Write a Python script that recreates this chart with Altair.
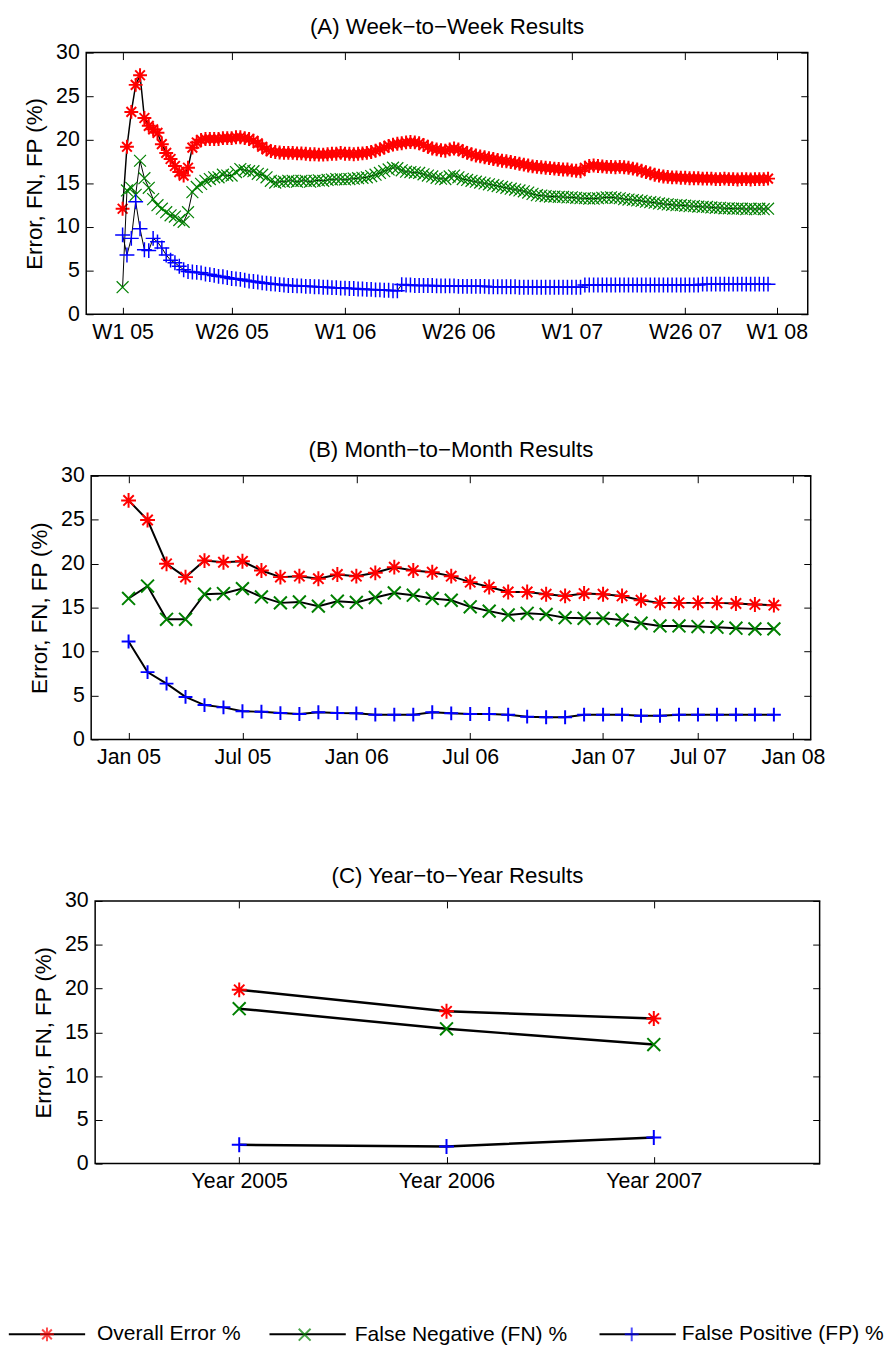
import altair as alt
import pandas as pd

FONT = "Liberation Sans"
SERIES = ["Overall Error %", "False Negative (FN) %", "False Positive (FP) %"]
COLORS = ["#ff0000", "#008000", "#0000ff"]
Y_TITLE = "Error, FN, FP (%)"
Y_TICKS = [0, 5, 10, 15, 20, 25, 30]

# ---------------- (A) week-to-week ----------------
week_overall = [
    12.1, 19.2, 23.2, 26.3, 27.4, 22.5, 21.6, 21.2, 20.8, 19.5, 18.5, 17.8, 17.0, 16.3, 15.9, 16.8,
    19.1, 19.7, 20.0, 20.1, 20.1, 20.1, 20.1, 20.2, 20.2, 20.2, 20.3, 20.3, 20.2, 20.1, 19.9, 19.6,
    19.2, 18.9, 18.7, 18.6,
    18.55, 18.5, 18.5, 18.5, 18.45, 18.45,
    18.4, 18.35, 18.35, 18.3, 18.3, 18.35, 18.4, 18.4, 18.5, 18.4, 18.4, 18.35, 18.4, 18.45, 18.5,
    18.6, 18.75, 18.9, 19.1, 19.3, 19.45, 19.55, 19.6, 19.7, 19.75,
    19.7, 19.6, 19.4, 19.2, 19.0, 18.9, 18.8, 18.75,
    18.9, 19.0, 18.9, 18.7, 18.5, 18.35,
    18.2, 18.1, 18.0, 17.9, 17.8, 17.7, 17.6, 17.55,
    17.45, 17.35, 17.25, 17.15, 17.05, 16.95, 16.9, 16.85,
    16.8, 16.75, 16.7, 16.65, 16.6, 16.6, 16.5, 16.45, 16.4,
    16.8, 17.0, 17.05, 17.0, 16.95, 16.9, 16.9, 16.85,
    16.9, 16.85, 16.8, 16.7, 16.6, 16.45, 16.3, 16.15, 16.0, 15.9, 15.8, 15.75,
    15.7, 15.7, 15.65, 15.65, 15.6, 15.6, 15.6, 15.55, 15.55, 15.55, 15.5, 15.5, 15.55, 15.5, 15.5,
    15.45, 15.5, 15.5, 15.45, 15.5, 15.5, 15.5, 15.55,
]
week_fn = [
    3.1, 14.2, 14.5, 13.7, 17.6, 15.6, 14.5, 13.2, 12.5, 12.1, 11.7, 11.35, 11.2, 10.8, 10.6, 11.7,
    14.0, 14.6, 14.95, 15.3, 15.5, 15.7, 15.7, 16.0, 15.9, 15.9, 16.3, 16.65, 16.5, 16.4, 16.4, 16.1,
    16.0, 15.7, 15.3, 15.1,
    15.2, 15.2, 15.3, 15.3, 15.2, 15.3, 15.3, 15.2, 15.3, 15.35, 15.3, 15.4, 15.45, 15.5,
    15.5, 15.45, 15.5, 15.55, 15.6, 15.65, 15.7,
    15.85, 16.0, 16.2, 16.4, 16.6, 16.8, 16.75, 16.5, 16.35, 16.3,
    16.25, 16.2, 16.05, 15.9, 15.8, 15.65, 15.55, 15.5,
    15.8, 15.9, 15.7, 15.5, 15.4, 15.3,
    15.2, 15.1, 15.0, 14.9, 14.8, 14.7, 14.6, 14.5, 14.4, 14.3, 14.2, 14.1, 13.95, 13.8, 13.65,
    13.6, 13.55, 13.5, 13.5, 13.45, 13.45, 13.4, 13.4, 13.35, 13.3, 13.3, 13.25, 13.25, 13.3, 13.35,
    13.4, 13.4, 13.35,
    13.3, 13.2, 13.15, 13.1, 13.05, 13.0, 12.9, 12.85, 12.8, 12.7, 12.65, 12.6,
    12.55, 12.5, 12.5, 12.45, 12.4, 12.4, 12.35, 12.3, 12.3, 12.25, 12.2, 12.2, 12.15, 12.15, 12.1,
    12.1, 12.1, 12.05, 12.1, 12.05, 12.1, 12.05, 12.1,
]
week_fp = [
    9.1, 6.8, 8.7, 12.9, 9.8, 7.4, 7.3, 8.7, 8.3, 7.6, 6.8, 6.2, 5.9, 5.5, 5.1, 4.9,
    4.85, 4.8, 4.75, 4.6, 4.55, 4.45, 4.35, 4.3, 4.2, 4.1, 4.05, 4.0, 3.9, 3.8, 3.75, 3.7,
    3.6, 3.55, 3.5, 3.45,
    3.4, 3.35, 3.3, 3.3, 3.25, 3.25, 3.2, 3.2, 3.15, 3.15, 3.1, 3.1, 3.05, 3.05, 3.0, 3.0,
    2.95, 2.95, 2.9, 2.9, 2.85, 2.85, 2.8, 2.8, 2.75, 2.75, 2.7, 2.7,
    3.4, 3.35, 3.35, 3.3, 3.3, 3.3, 3.3, 3.3, 3.25, 3.25, 3.25, 3.25, 3.25, 3.2, 3.2, 3.2,
    3.2, 3.2, 3.2, 3.2, 3.15, 3.15, 3.15, 3.15, 3.15, 3.15, 3.15, 3.1, 3.1, 3.1, 3.1, 3.1,
    3.1, 3.1, 3.1, 3.1, 3.1, 3.1, 3.1, 3.1, 3.1, 3.1,
    3.35, 3.35, 3.35, 3.35, 3.35, 3.35, 3.35, 3.35, 3.35, 3.35, 3.35, 3.35, 3.35, 3.35,
    3.35, 3.35, 3.35, 3.35, 3.35, 3.35, 3.35, 3.35, 3.35, 3.35, 3.35, 3.35, 3.35,
    3.45, 3.45, 3.45, 3.45, 3.45, 3.45, 3.45, 3.45, 3.45, 3.45, 3.45, 3.45, 3.45, 3.45, 3.45, 3.45,
]
week_tick_pos = [0, 25, 51, 77, 103, 129, 150]
week_tick_labels = ["W1 05", "W26 05", "W1 06", "W26 06", "W1 07", "W26 07", "W1 08"]
week_domain = [-8.34, 157.1]

# ---------------- (B) month-to-month ----------------
month_overall = [
    27.2, 24.97, 19.98, 18.47, 20.35, 20.16, 20.27, 19.22, 18.47, 18.58, 18.29, 18.77, 18.58,
    18.96, 19.6, 19.22, 19.03, 18.58, 17.9, 17.34, 16.78, 16.78, 16.52, 16.33, 16.6, 16.52,
    16.33, 15.84, 15.54, 15.54, 15.54, 15.54, 15.47, 15.36, 15.28,
]
month_fn = [
    16.04, 17.45, 13.67, 13.67, 16.52, 16.6, 17.16, 16.22, 15.54, 15.65, 15.17, 15.73, 15.59,
    16.15, 16.67, 16.41, 16.04, 15.84, 15.09, 14.6, 14.16, 14.35, 14.23, 13.85, 13.78, 13.78,
    13.59, 13.22, 12.92, 12.92, 12.84, 12.77, 12.66, 12.58, 12.58,
]
month_fp = [
    11.15, 7.66, 6.35, 4.84, 3.91, 3.65, 3.2, 3.15, 3.0, 2.89, 3.09, 3.0, 2.97, 2.82, 2.82,
    2.82, 3.09, 2.97, 2.89, 2.89, 2.82, 2.59, 2.52, 2.52, 2.82, 2.82, 2.82, 2.7, 2.7, 2.82,
    2.82, 2.82, 2.82, 2.82, 2.82,
]
month_tick_pos = [0, 6, 12, 18, 25, 30, 35]
month_tick_labels = ["Jan 05", "Jul 05", "Jan 06", "Jul 06", "Jan 07", "Jul 07", "Jan 08"]
month_domain = [-1.97, 35.94]

# ---------------- (C) year-to-year ----------------
year_overall = [19.85, 17.4, 16.57]
year_fn = [17.7, 15.4, 13.6]
year_fp = [2.15, 1.96, 2.98]
year_tick_pos = [1, 2, 3]
year_tick_labels = ["Year 2005", "Year 2006", "Year 2007"]
year_domain = [0.305, 3.8]

# marker shapes (unit square) for the data marks
AST = "M0,-1L0,1M-1,0L1,0M-0.7,-0.7L0.7,0.7M-0.7,0.7L0.7,-0.7"
XSH = "M-1,-1L1,1M-1,1L1,-1"
PLS = "M0,-1L0,1M-1,0L1,0"
SHAPES = [AST, XSH, PLS]

# legend: symbol of 77px covering [-1,1]; markers scaled into it
LEG_W = 77
k = 7.0 / (LEG_W / 2)


def _scale_path(p, s):
    out, num = [], ""
    for ch in p:
        if ch in "-.0123456789":
            num += ch
        else:
            if num:
                out.append(f"{float(num) * s:.3f}")
                num = ""
            out.append(ch)
    if num:
        out.append(f"{float(num) * s:.3f}")
    return "".join(out)


LEG_SHAPES = [_scale_path(AST, k), _scale_path(XSH, k * 0.85), _scale_path(PLS, k)]


def long_df(xs, cols):
    rows = []
    for name, vals in zip(SERIES, cols):
        for x, v in zip(xs, vals):
            rows.append({"x": x, "v": v, "series": name})
    return pd.DataFrame(rows)


def label_expr(pos, labels):
    expr = "''"
    for p, l in reversed(list(zip(pos, labels))):
        expr = f"datum.value == {p} ? '{l}' : ({expr})"
    return expr


FS = 21.5      # tick labels
FT = 22.5      # titles
FL = 21.2      # legend


def make_panel(df, xdom, tpos, tlab, sizes, sws, lws):
    xs = alt.Scale(domain=xdom, nice=False, zero=False)
    ys = alt.Scale(domain=[0, 30], nice=False, zero=False)
    xaxis = alt.Axis(orient="bottom", values=tpos, labelExpr=label_expr(tpos, tlab),
                     offset=-7, tickSize=7, domain=False, grid=False, labelPadding=7,
                     labelFontSize=FS, labelFont=FONT, labelColor="black", tickColor="black",
                     labelFlush=False, labelOverlap=False, title=None)
    yaxis = alt.Axis(orient="left", values=Y_TICKS, offset=-7, tickSize=7, domain=False,
                     grid=False, labelPadding=7, labelFontSize=FS, labelFont=FONT,
                     labelColor="black", tickColor="black", title=Y_TITLE, titleFontSize=FT,
                     titleFont=FONT, titleFontWeight="normal", titleColor="black",
                     titlePadding=9)
    xtop = alt.Axis(orient="top", values=tpos, offset=-7, tickSize=7, domain=False,
                    grid=False, labels=False, tickColor="black", title=None)
    yright = alt.Axis(orient="right", values=Y_TICKS, offset=-7, tickSize=7, domain=False,
                      grid=False, labels=False, tickColor="black", title=None)
    layers = []
    for name, col, shp, size, sw, lw in zip(SERIES, COLORS, SHAPES, sizes, sws, lws):
        base = alt.Chart(df).transform_filter(alt.datum.series == name)
        enc = dict(x=alt.X("x:Q", scale=xs, axis=xaxis), y=alt.Y("v:Q", scale=ys, axis=yaxis))
        layers.append(base.mark_line(color="black", strokeWidth=lw).encode(**enc))
        layers.append(base.mark_point(shape=shp, color=col, size=size, strokeWidth=sw,
                                      filled=False, opacity=1).encode(**enc))
    inner = alt.layer(*layers)
    frame = alt.Chart(df).mark_point(opacity=0).encode(
        x=alt.X("x:Q", scale=xs, axis=xtop), y=alt.Y("v:Q", scale=ys, axis=yright))
    return inner, frame


dfA = long_df(list(range(len(week_overall))), [week_overall, week_fn, week_fp])
dfB = long_df(list(range(len(month_overall))), [month_overall, month_fn, month_fp])
dfC = long_df(year_tick_pos, [year_overall, year_fn, year_fp])


def titled(text):
    return alt.TitleParams(text, fontSize=FT, fontWeight="normal", font=FONT, color="black",
                           anchor="middle", frame="group", offset=3)


innerA, frameA = make_panel(dfA, week_domain, week_tick_pos, week_tick_labels,
                            [196, 144, 225], [2, 1.2, 1.5], [1.5, 1, 1])
panelA = alt.layer(innerA, frameA).resolve_scale(x="independent", y="independent").properties(
    width=728, height=264, title=titled("(A) Week\u2212to\u2212Week Results"))

innerB, frameB = make_panel(dfB, month_domain, month_tick_pos, month_tick_labels,
                            [225, 169, 196], [2, 2, 2], [2, 2, 2])
panelB = alt.layer(innerB, frameB).resolve_scale(x="independent", y="independent").properties(
    width=726, height=266, title=titled("(B) Month\u2212to\u2212Month Results"))

innerC, frameC = make_panel(dfC, year_domain, year_tick_pos, year_tick_labels,
                            [225, 169, 225], [2, 2, 2], [2.5, 2.5, 2.5])

# legend (built from scale domains only; no marks drawn)
LEG_X = -14.1
LEG_Y = 1253.5
leg_common = dict(orient="none", direction="horizontal", legendX=LEG_X, legendY=LEG_Y,
                  title=None, symbolSize=LEG_W * LEG_W, labelFontSize=FL, labelFont=FONT,
                  labelColor="black", labelOffset=11, columnPadding=25, padding=0,
                  symbolStrokeWidth=2, labelLimit=600)
LINE_KEYS = ["k1", "k2", "k3"]
leg_df = pd.DataFrame({"series": SERIES, "lkey": LINE_KEYS})
legend_lines = alt.Chart(leg_df).transform_filter("false").mark_line(strokeWidth=2).encode(
    color=alt.Color("lkey:N", scale=alt.Scale(domain=LINE_KEYS, range=["black"] * 3),
                    legend=alt.Legend(symbolType="M-1,0H1", labelOpacity=0,
                                      labelExpr=label_expr([f"'{s}'" for s in LINE_KEYS], SERIES),
                                      **leg_common)))
mk_leg = alt.Legend(symbolFillColor="transparent", **leg_common)
legend_marks = alt.Chart(leg_df).transform_filter("false").mark_point(filled=False).encode(
    stroke=alt.Stroke("series:N", scale=alt.Scale(domain=SERIES, range=COLORS), legend=mk_leg),
    shape=alt.Shape("series:N", scale=alt.Scale(domain=SERIES, range=LEG_SHAPES), legend=mk_leg))

panelC = alt.layer(innerC, frameC, legend_lines, legend_marks).resolve_scale(
    x="independent", y="independent").properties(
    width=731, height=265, title=titled("(C) Year\u2212to\u2212Year Results"))


def spacer(w, h):
    # invisible horizontal offset before a panel
    return alt.Chart(pd.DataFrame({"s": [0]})).mark_rule(opacity=0).encode(
        x=alt.value(0), x2=alt.value(w), y=alt.value(0)).properties(
        width=w, height=h, view=alt.ViewBackground(stroke=None))


rowA = alt.hconcat(spacer(1, 264), panelA, spacing=0)
rowB = alt.hconcat(spacer(6, 266), panelB, spacing=0)
rowC = alt.hconcat(spacer(10, 265), panelC, spacing=0)

chart = alt.vconcat(rowA, rowB, rowC, spacing=95).properties(
    padding={"left": 7, "top": 9, "right": 0, "bottom": 0}
).configure(font=FONT).configure_view(stroke="black", strokeWidth=1.5).configure_axis(
    tickWidth=1)

chart.save("out.html", embed_options={"renderer": "svg", "actions": False})
